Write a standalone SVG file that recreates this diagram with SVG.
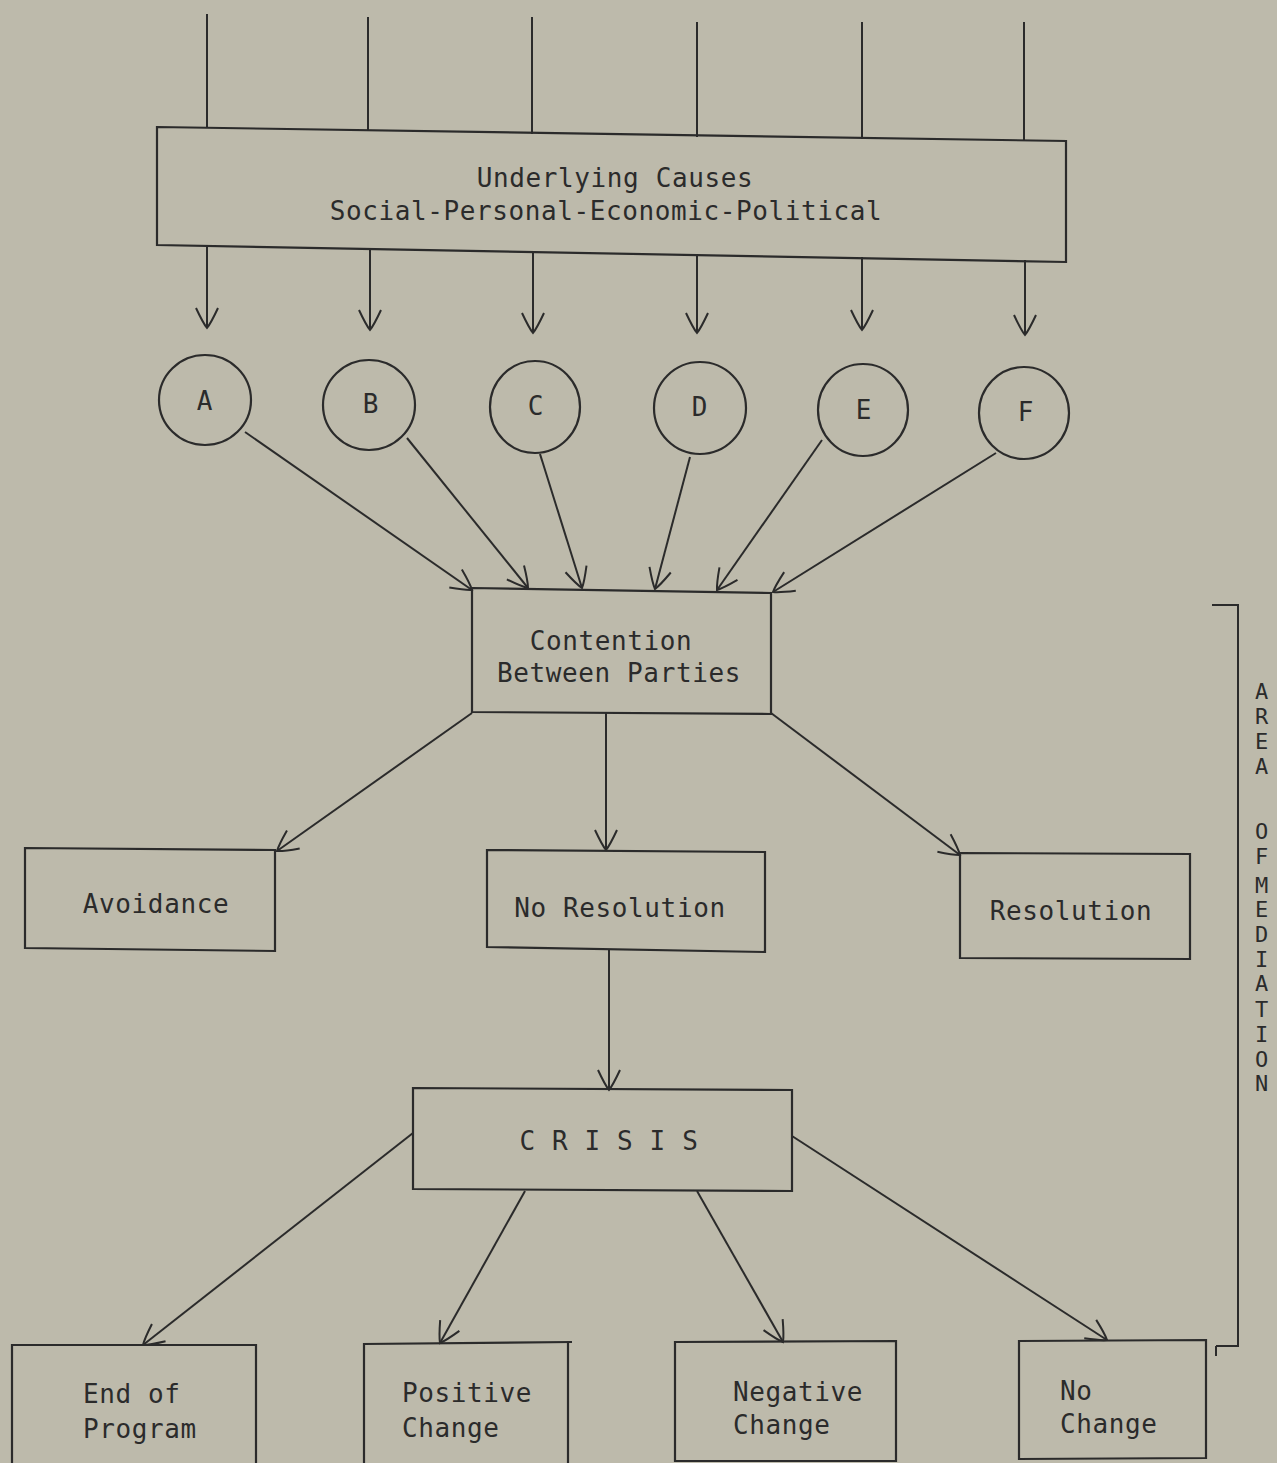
<svg xmlns="http://www.w3.org/2000/svg" width="1277" height="1463" viewBox="0 0 1277 1463">
<style>
.bg{fill:#bdbaab}
.ln{fill:none;stroke:#2b2b2b;stroke-width:2}
.bx{fill:none;stroke:#2b2b2b;stroke-width:2.2}
.t{font-family:"DejaVu Sans Mono","Liberation Mono",monospace;font-size:26px;fill:#2b2b2b;letter-spacing:0.6px}
.c{text-anchor:middle}
.v{font-size:22px}
</style>
<defs>
<marker id="ah" markerUnits="userSpaceOnUse" markerWidth="40" markerHeight="40" viewBox="-25 -20 30 40" refX="0" refY="0" orient="auto">
<path d="M -20 -11 Q -5 -4 0 0 Q -5 4 -20 11" fill="none" stroke="#2b2b2b" stroke-width="2"/>
</marker>
</defs>
<rect class="bg" x="0" y="0" width="1277" height="1463"/>

<g id="connectors">
<line class="ln" x1="207" y1="14" x2="207" y2="128"/>
<line class="ln" x1="368" y1="17" x2="368" y2="131"/>
<line class="ln" x1="532" y1="17" x2="532" y2="134"/>
<line class="ln" x1="697" y1="22" x2="697" y2="137"/>
<line class="ln" x1="862" y1="22" x2="862" y2="139"/>
<line class="ln" x1="1024" y1="22" x2="1024" y2="141"/>

<line class="ln" x1="207" y1="246" x2="207" y2="328" marker-end="url(#ah)"/>
<line class="ln" x1="370" y1="249" x2="370" y2="330" marker-end="url(#ah)"/>
<line class="ln" x1="533" y1="252" x2="533" y2="333" marker-end="url(#ah)"/>
<line class="ln" x1="697" y1="254" x2="697" y2="333" marker-end="url(#ah)"/>
<line class="ln" x1="862" y1="257" x2="862" y2="330" marker-end="url(#ah)"/>
<line class="ln" x1="1025" y1="260" x2="1025" y2="335" marker-end="url(#ah)"/>

<line class="ln" x1="245" y1="432" x2="472" y2="590" marker-end="url(#ah)"/>
<line class="ln" x1="407" y1="438" x2="528" y2="588" marker-end="url(#ah)"/>
<line class="ln" x1="540" y1="454" x2="582" y2="588" marker-end="url(#ah)"/>
<line class="ln" x1="690" y1="457" x2="655" y2="589" marker-end="url(#ah)"/>
<line class="ln" x1="822" y1="440" x2="717" y2="590" marker-end="url(#ah)"/>
<line class="ln" x1="996" y1="453" x2="773" y2="592" marker-end="url(#ah)"/>

<line class="ln" x1="472" y1="713" x2="277" y2="851" marker-end="url(#ah)"/>
<line class="ln" x1="606" y1="713" x2="606" y2="850" marker-end="url(#ah)"/>
<line class="ln" x1="771" y1="713" x2="960" y2="855" marker-end="url(#ah)"/>

<line class="ln" x1="609" y1="950" x2="609" y2="1090" marker-end="url(#ah)"/>

<line class="ln" x1="413" y1="1133" x2="143" y2="1345" marker-end="url(#ah)"/>
<line class="ln" x1="525" y1="1191" x2="440" y2="1343" marker-end="url(#ah)"/>
<line class="ln" x1="697" y1="1191" x2="783" y2="1342" marker-end="url(#ah)"/>
<line class="ln" x1="792" y1="1136" x2="1107" y2="1340" marker-end="url(#ah)"/>
</g>

<g id="underlying-causes">
<polygon class="bx" points="157,127 1066,141 1066,262 157,245"/>
<text class="t c" x="615" y="187">Underlying Causes</text>
<text class="t c" x="606" y="220">Social-Personal-Economic-Political</text>
</g>

<g id="node-a"><ellipse class="bx" cx="205" cy="400" rx="46" ry="45"/><text class="t c" x="205" y="410">A</text></g>
<g id="node-b"><ellipse class="bx" cx="369" cy="405" rx="46" ry="45"/><text class="t c" x="371" y="413">B</text></g>
<g id="node-c"><ellipse class="bx" cx="535" cy="407" rx="45" ry="46"/><text class="t c" x="536" y="415">C</text></g>
<g id="node-d"><ellipse class="bx" cx="700" cy="408" rx="46" ry="46"/><text class="t c" x="700" y="416">D</text></g>
<g id="node-e"><ellipse class="bx" cx="863" cy="410" rx="45" ry="46"/><text class="t c" x="864" y="419">E</text></g>
<g id="node-f"><ellipse class="bx" cx="1024" cy="413" rx="45" ry="46"/><text class="t c" x="1026" y="421">F</text></g>

<g id="contention">
<polygon class="bx" points="472,588 771,593 771,714 472,712"/>
<text class="t c" x="611" y="650">Contention</text>
<text class="t c" x="619" y="682">Between Parties</text>
</g>

<g id="avoidance">
<polygon class="bx" points="25,848 275,850 275,951 25,948"/>
<text class="t c" x="156" y="913">Avoidance</text>
</g>

<g id="no-resolution">
<polygon class="bx" points="487,850 765,852 765,952 487,947"/>
<text class="t c" x="620" y="917">No Resolution</text>
</g>

<g id="resolution">
<polygon class="bx" points="960,853 1190,854 1190,959 960,958"/>
<text class="t c" x="1071" y="920">Resolution</text>
</g>

<g id="crisis">
<polygon class="bx" points="413,1088 792,1090 792,1191 413,1189"/>
<text class="t c" x="609" y="1150">C R I S I S</text>
</g>

<g id="end-of-program">
<polyline class="bx" points="12,1470 12,1345 256,1345 256,1470"/>
<text class="t" x="83" y="1403">End of</text>
<text class="t" x="83" y="1438">Program</text>
</g>

<g id="positive-change">
<polyline class="bx" points="364,1470 364,1344 572,1342"/>
<line class="bx" x1="568" y1="1343" x2="568" y2="1470"/>
<text class="t" x="402" y="1402">Positive</text>
<text class="t" x="402" y="1437">Change</text>
</g>

<g id="negative-change">
<polygon class="bx" points="675,1342 896,1341 896,1461 675,1461"/>
<text class="t" x="733" y="1401">Negative</text>
<text class="t" x="733" y="1434">Change</text>
</g>

<g id="no-change">
<polygon class="bx" points="1019,1341 1206,1340 1206,1458 1019,1459"/>
<text class="t" x="1060" y="1400">No</text>
<text class="t" x="1060" y="1433">Change</text>
</g>

<g id="area-of-mediation">
<polyline class="ln" points="1212,605 1238,605 1238,1346 1216,1346"/>
<line class="ln" x1="1216" y1="1346" x2="1216" y2="1356"/>
<text class="t c v" x="1262" y="699">A</text>
<text class="t c v" x="1262" y="724">R</text>
<text class="t c v" x="1262" y="749">E</text>
<text class="t c v" x="1262" y="774">A</text>
<text class="t c v" x="1262" y="839">O</text>
<text class="t c v" x="1262" y="864">F</text>
<text class="t c v" x="1262" y="893">M</text>
<text class="t c v" x="1262" y="917">E</text>
<text class="t c v" x="1262" y="942">D</text>
<text class="t c v" x="1262" y="967">I</text>
<text class="t c v" x="1262" y="991">A</text>
<text class="t c v" x="1262" y="1017">T</text>
<text class="t c v" x="1262" y="1042">I</text>
<text class="t c v" x="1262" y="1067">O</text>
<text class="t c v" x="1262" y="1091">N</text>
</g>
</svg>
